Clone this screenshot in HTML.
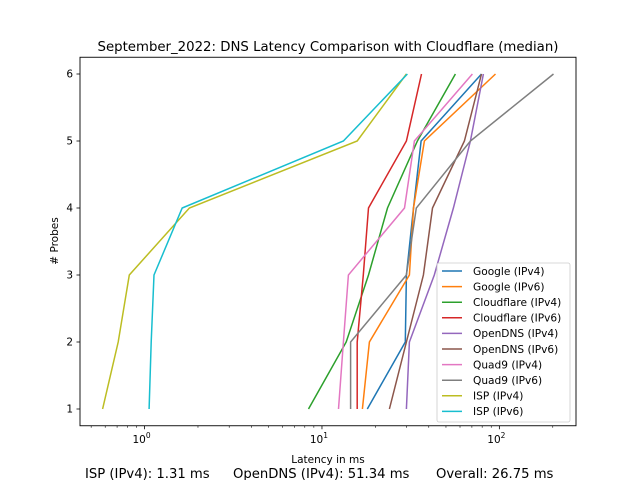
<!DOCTYPE html>
<html><head><meta charset="utf-8"><style>
body{margin:0;background:#fff;}
svg text{font-family:"DejaVu Sans","Liberation Sans",sans-serif;fill:#000;}
</style></head><body>
<svg id="chart" width="640" height="480" viewBox="0 0 640 480" xmlns="http://www.w3.org/2000/svg">
<rect width="640" height="480" fill="#fff"/>
<text x="328" y="51" font-size="13.3" text-anchor="middle">September_2022: DNS Latency Comparison with Cloudflare (median)</text>
<g id="plot"></g>
<rect x="80" y="57.25" width="496" height="368.5" fill="none" stroke="#000" stroke-width="0.9"/>
<text x="328" y="463" font-size="10.5" text-anchor="middle">Latency in ms</text>
<text transform="translate(58,241) rotate(-90)" font-size="10.5" text-anchor="middle"># Probes</text>
<text x="85" y="478" font-size="13.2">ISP (IPv4): 1.31 ms</text>
<text x="233" y="478" font-size="13.2">OpenDNS (IPv4): 51.34 ms</text>
<text x="436" y="478" font-size="13.2">Overall: 26.75 ms</text>
<g id="legend"></g>
</svg>
<script>
const seriesNames = ["Google (IPv4)","Google (IPv6)","Cloudflare (IPv4)","Cloudflare (IPv6)","OpenDNS (IPv4)","OpenDNS (IPv6)","Quad9 (IPv4)","Quad9 (IPv6)","ISP (IPv4)","ISP (IPv6)"];
const seriesColors = ["#1f77b4","#ff7f0e","#2ca02c","#d62728","#9467bd","#8c564b","#e377c2","#7f7f7f","#bcbd22","#17becf"];
const probes = [1,2,3,4,5,6];
const googleV4 = [18.0,29.5,29.9,32.8,36.2,79.3];
const googleV6 = [16.9,18.5,31.1,32.8,37.8,95.1];
const cloudflareV4 = [8.4,13.7,18.3,23.4,34.5,56.5];
const cloudflareV6 = [15.8,15.8,17.1,18.3,29.9,36.4];
const opendnsV4 = [29.9,31.1,43.0,55.1,68.7,81.3];
const opendnsV6 = [24.0,29.9,37.3,42.0,63.5,79.3];
const quad9V4 = [12.4,13.2,14.1,29.2,33.2,70.5];
const quad9V6 = [14.5,14.5,29.9,34.0,68.7,202];
const ispV4 = [0.58,0.71,0.82,1.79,15.8,29.9];
const ispV6 = [1.06,1.09,1.13,1.63,13.2,30.3];
const seriesValues = [googleV4,googleV6,cloudflareV4,cloudflareV6,opendnsV4,opendnsV6,quad9V4,quad9V6,ispV4,ispV6];
const yTicks = [1,2,3,4,5,6];
const xTickExps = [0,1,2];

const NS="http://www.w3.org/2000/svg";
const L=80,R=576,T=57.25,B=425.75;
const lmin=-0.364,lmax=2.432,ymin=0.75,ymax=6.25;
const xs=v=>L+(Math.log10(v)-lmin)/(lmax-lmin)*(R-L);
const ys=v=>B-(v-ymin)/(ymax-ymin)*(B-T);
function mk(t,a){const e=document.createElementNS(NS,t);for(const k in a)e.setAttribute(k,a[k]);return e;}
const plot=document.getElementById('plot');
for(let e=-1;e<=2;e++){for(let m=1;m<10;m++){const v=m*Math.pow(10,e);const lv=Math.log10(v);if(lv<lmin||lv>lmax)continue;const x=xs(v);
 const tk=mk('line',{x1:x,x2:x,y1:B,y2:B+(m===1?3.5:2),stroke:'#000','stroke-width':m===1?0.8:0.6});
 
 
 plot.appendChild(tk);}}
xTickExps.forEach(e=>{const x=xs(Math.pow(10,e));const t=mk('text',{x:x-3,y:B+17,'font-size':10.5,'text-anchor':'middle'});
 
 
 t.textContent='10';const s=mk('tspan',{dy:-5,'font-size':7.5});s.textContent=String(e);t.appendChild(s);plot.appendChild(t);});
yTicks.forEach(v=>{const y=ys(v);const tk=mk('line',{x1:L-3.5,x2:L,y1:y,y2:y,stroke:'#000','stroke-width':0.8});
 
 
 plot.appendChild(tk);
 const t=mk('text',{x:L-7,y:y+3.5,'font-size':10.5,'text-anchor':'end'});
 
 
 t.textContent=v;plot.appendChild(t);});
seriesValues.forEach((vals,i)=>{const pts=vals.map((v,j)=>xs(v).toFixed(1)+','+ys(probes[j]).toFixed(1)).join(' ');
 const p=mk('polyline',{points:pts,fill:'none',stroke:seriesColors[i],'stroke-width':1.5});
 
 
 plot.appendChild(p);});
const lg=document.getElementById('legend');
const box=mk('rect',{x:437,y:263,width:133,height:159,rx:2,fill:'#fff','fill-opacity':0.8,stroke:'#ccc','stroke-width':0.8});


lg.appendChild(box);
seriesNames.forEach((n,i)=>{const y=271+i*15.6;
 const g=mk('g',{});
 
 
 g.appendChild(mk('line',{x1:442,x2:462,y1:y,y2:y,stroke:seriesColors[i],'stroke-width':1.5}));
 const t=mk('text',{x:473,y:y+3.8,'font-size':10.6});t.textContent=n;g.appendChild(t);lg.appendChild(g);});
</script>
</body></html>
